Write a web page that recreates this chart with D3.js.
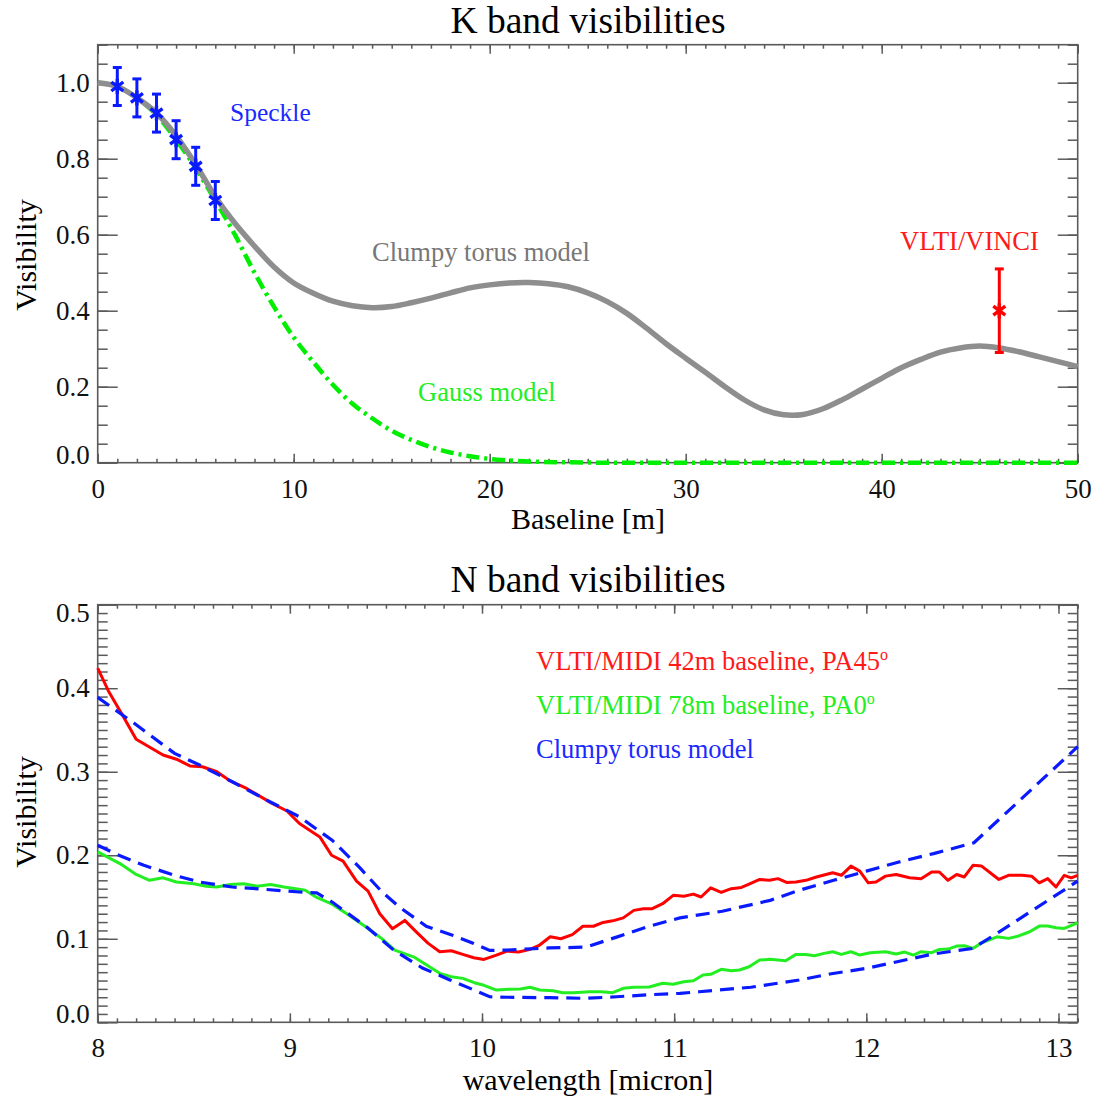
<!DOCTYPE html>
<html>
<head>
<meta charset="utf-8">
<script src="https://cdn.jsdelivr.net/npm/d3@7"></script>
<style>
body { margin: 0; background: #fff; }
svg text { font-family: "Palatino Linotype", "Book Antiqua", Palatino, "Liberation Serif", serif; }
</style>
</head>
<body>
<div id="chart-area"></div>
<script>
// K band panel
var kBaseline = [0,1,2,3,4,5,6,7,8,9,10,11,12,13,14,15,16,17,18,19,20,21,22,23,24,25,26,27,28,29,30,31,32,33,34,35,36,37,38,39,40,41,42,43,44,45,46,47,48,49,50]
var kClumpy = [1.0,0.99,0.96,0.92,0.86,0.785,0.70,0.63,0.57,0.515,0.473,0.446,0.425,0.413,0.408,0.411,0.421,0.433,0.447,0.46,0.468,0.473,0.474,0.471,0.463,0.447,0.424,0.393,0.354,0.313,0.275,0.238,0.2,0.165,0.139,0.126,0.127,0.142,0.166,0.194,0.222,0.25,0.272,0.291,0.302,0.307,0.302,0.292,0.279,0.266,0.253]
var gaussBaseline = [0,1,2,3,4,5,6,7,8,9,10,11,12,13,14,15,16,17,18,19,20,21,22,24,26,30,40,50]
var gaussVis = [1.0,0.99,0.96,0.915,0.85,0.775,0.69,0.60,0.50,0.41,0.33,0.265,0.205,0.155,0.117,0.084,0.06,0.041,0.027,0.017,0.01,0.006,0.003,0.001,0,0,0,0]
var speckleBaseline = [1,2,3,4,5,6]
var speckleVis = [0.99,0.96,0.92,0.85,0.78,0.69]
var speckleErr = [0.05,0.05,0.05,0.05,0.05,0.05]
var vinciBaseline = [46]
var vinciVis = [0.40]
var vinciErr = [0.11]
var kXTicks = [0,10,20,30,40,50]
var kYTicks = [0.0,0.2,0.4,0.6,0.8,1.0]

// N band panel
var wave42 = [8.0,8.055,8.133,8.2,8.34,8.41,8.48,8.545,8.62,8.69,8.775,8.9,8.985,9.05,9.156,9.217,9.277,9.347,9.407,9.468,9.534,9.598,9.659,9.72,9.78,9.84,9.9,9.957,10.01,10.075,10.13,10.19,10.25,10.3,10.355,10.41,10.47,10.525,10.58,10.63,10.68,10.735,10.79,10.84,10.886,10.94,10.995,11.05,11.1,11.14,11.19,11.245,11.297,11.35,11.39,11.445,11.496,11.54,11.585,11.634,11.686,11.74,11.79,11.825,11.87,11.92,11.966,12.01,12.05,12.1,12.155,12.225,12.285,12.34,12.38,12.425,12.47,12.51,12.555,12.6,12.69,12.74,12.81,12.86,12.9,12.944,12.987,13.03,13.066,13.1]
var midi42 = [0.424,0.397,0.366,0.339,0.320,0.315,0.307,0.306,0.300,0.289,0.280,0.263,0.253,0.238,0.222,0.200,0.193,0.169,0.157,0.130,0.112,0.122,0.108,0.0945,0.0845,0.0857,0.0813,0.0773,0.0753,0.0805,0.0853,0.0841,0.0873,0.0925,0.1024,0.100,0.105,0.115,0.115,0.1196,0.1215,0.125,0.134,0.136,0.136,0.142,0.152,0.151,0.1535,0.150,0.161,0.1555,0.160,0.1615,0.1655,0.171,0.170,0.172,0.1675,0.168,0.170,0.174,0.177,0.179,0.176,0.187,0.181,0.167,0.168,0.175,0.177,0.173,0.172,0.180,0.180,0.170,0.177,0.174,0.188,0.187,0.171,0.176,0.176,0.175,0.167,0.172,0.162,0.176,0.173,0.176]
var wave78 = [8.0,8.116,8.2,8.27,8.34,8.41,8.5,8.565,8.62,8.69,8.76,8.83,8.9,8.97,9.03,9.08,9.14,9.22,9.31,9.4,9.477,9.546,9.65,9.78,9.84,9.9,9.96,10.01,10.075,10.14,10.2,10.25,10.3,10.37,10.42,10.475,10.56,10.62,10.68,10.735,10.79,10.87,10.94,10.995,11.05,11.1,11.15,11.19,11.245,11.297,11.34,11.39,11.445,11.5,11.58,11.634,11.686,11.73,11.78,11.825,11.87,11.92,11.966,12.02,12.1,12.155,12.2,12.245,12.285,12.34,12.38,12.425,12.47,12.51,12.555,12.6,12.68,12.74,12.79,12.85,12.9,12.944,12.987,13.03,13.1]
var midi78 = [0.204,0.190,0.177,0.170,0.173,0.168,0.166,0.163,0.162,0.165,0.166,0.163,0.165,0.162,0.160,0.158,0.1495,0.1415,0.128,0.1136,0.1005,0.0865,0.0777,0.0586,0.0545,0.0526,0.0474,0.0443,0.0386,0.0395,0.0398,0.0419,0.0386,0.0378,0.0354,0.0354,0.0366,0.0366,0.0354,0.0407,0.0419,0.0422,0.0467,0.0455,0.0486,0.0498,0.0566,0.0574,0.0634,0.0617,0.0626,0.0665,0.0745,0.0754,0.0737,0.0813,0.0813,0.0797,0.0825,0.0845,0.0813,0.0845,0.0805,0.0833,0.0845,0.0817,0.0841,0.0805,0.0845,0.0833,0.0873,0.0877,0.0913,0.0917,0.0885,0.0952,0.1024,0.1005,0.1032,0.1084,0.1152,0.1152,0.1132,0.1124,0.119]
var modelWave42 = [8.0,8.19,8.4,8.53,8.7,8.88,9.05,9.22,9.36,9.48,9.57,9.71,9.85,9.95,10.04,10.13,10.35,10.54,10.7,10.87,11.03,11.25,11.5,11.65,11.83,12.0,12.17,12.35,12.56,13.1]
var model42 = [0.389,0.358,0.322,0.308,0.288,0.266,0.246,0.218,0.186,0.156,0.138,0.115,0.104,0.095,0.086,0.0865,0.089,0.090,0.102,0.115,0.125,0.133,0.146,0.158,0.170,0.181,0.192,0.202,0.215,0.33]
var modelWave78 = [8.0,8.1,8.24,8.4,8.53,8.7,8.88,9.05,9.14,9.22,9.4,9.54,9.69,9.83,9.955,10.04,10.13,10.35,10.54,10.7,10.87,11.03,11.13,11.4,11.65,11.81,12.0,12.345,12.555,12.69,12.865,13.1]
var model78 = [0.212,0.201,0.188,0.176,0.168,0.162,0.159,0.156,0.155,0.144,0.114,0.0865,0.065,0.051,0.039,0.0306,0.030,0.0295,0.0287,0.0306,0.033,0.0347,0.0366,0.042,0.0506,0.0578,0.0646,0.0817,0.0885,0.108,0.134,0.169]
var nXTicks = [8,9,10,11,12,13]
var nYTicks = [0.0,0.1,0.2,0.3,0.4,0.5]

var width = 1099
var height = 1097
var plotLeft = 97.7
var plotRight = 1077.7
var frameColor = "#5a5a5a"
var noteSize = 26.5

var svg = d3.select("#chart-area")
    .append("svg")
    .attr("width", width)
    .attr("height", height)

var xK = d3.scaleLinear().domain([0, 50]).range([plotLeft, plotRight])
var yK = d3.scaleLinear().domain([0, 1.1]).range([462.7, 44.7])
var xN = d3.scaleLinear().domain([8, 13.1]).range([plotLeft, plotRight])
var yN = d3.scaleLinear().domain([0, 0.5]).range([1022.3, 604.7])

function cleanAxis(g){
    g.select(".domain").remove()
    g.attr("font-family", null).attr("font-size", null)
    g.selectAll("line").attr("stroke", frameColor).attr("stroke-width", 1.5)
    g.selectAll("text").attr("font-size", 27).attr("fill", "#111")
}

function drawFrame(x, y, xMajor, xMinor, yMajor, yMinor, yFormat){
    var x0 = x.range()[0], x1 = x.range()[1]
    var y0 = y.range()[0], y1 = y.range()[1]
    var g = svg.append("g")

    g.append("g").attr("transform", "translate(0," + y0 + ")")
        .call(d3.axisBottom(x).tickValues(xMinor).tickSize(-4).tickFormat("")).call(cleanAxis)
    g.append("g").attr("transform", "translate(0," + y1 + ")")
        .call(d3.axisTop(x).tickValues(xMinor).tickSize(-4).tickFormat("")).call(cleanAxis)
    g.append("g").attr("transform", "translate(" + x0 + ",0)")
        .call(d3.axisLeft(y).tickValues(yMinor).tickSize(-10).tickFormat("")).call(cleanAxis)
    g.append("g").attr("transform", "translate(" + x1 + ",0)")
        .call(d3.axisRight(y).tickValues(yMinor).tickSize(-10).tickFormat("")).call(cleanAxis)

    g.append("g").attr("transform", "translate(0," + y0 + ")")
        .call(d3.axisBottom(x).tickValues(xMajor).tickSize(-9).tickPadding(16).tickFormat(d3.format("d"))).call(cleanAxis)
    g.append("g").attr("transform", "translate(0," + y1 + ")")
        .call(d3.axisTop(x).tickValues(xMajor).tickSize(-9).tickFormat("")).call(cleanAxis)
    var yAxis = g.append("g").attr("transform", "translate(" + x0 + ",0)")
        .call(d3.axisLeft(y).tickValues(yMajor).tickSize(-20).tickPadding(8).tickFormat(yFormat)).call(cleanAxis)
    g.append("g").attr("transform", "translate(" + x1 + ",0)")
        .call(d3.axisRight(y).tickValues(yMajor).tickSize(-20).tickFormat("")).call(cleanAxis)

    g.append("rect")
        .attr("x", x0).attr("y", y1)
        .attr("width", x1 - x0).attr("height", y0 - y1)
        .attr("fill", "none")
        .attr("stroke", frameColor)
        .attr("stroke-width", 1.6)
    return yAxis
}

var kYAxis = drawFrame(xK, yK, kXTicks, d3.range(0, 50.01, 1), kYTicks, d3.range(0, 1.101, 0.05), d3.format(".1f"))
kYAxis.selectAll("text").filter(function(d){ return d === 0 }).attr("dy", "0.02em")

var nYAxis = drawFrame(xN, yN, nXTicks, d3.range(8, 13.101, 0.1), nYTicks, d3.range(0, 0.5001, 0.01), d3.format(".1f"))
nYAxis.selectAll("text").filter(function(d){ return d === 0 }).attr("dy", "0.0em")
nYAxis.selectAll("text").filter(function(d){ return d === 0.5 }).attr("dy", "0.64em")

// titles
svg.append("text").attr("x", 588).attr("y", 33).attr("text-anchor", "middle")
    .attr("font-size", 37.5).text("K band visibilities")
svg.append("text").attr("x", 588).attr("y", 592).attr("text-anchor", "middle")
    .attr("font-size", 37.5).text("N band visibilities")
svg.append("text").attr("x", 588).attr("y", 529).attr("text-anchor", "middle")
    .attr("font-size", 30).text("Baseline [m]")
svg.append("text").attr("x", 588).attr("y", 1090).attr("text-anchor", "middle")
    .attr("font-size", 30).text("wavelength [micron]")
svg.append("text").attr("transform", "translate(36,255) rotate(-90)").attr("text-anchor", "middle")
    .attr("font-size", 30).text("Visibility")
svg.append("text").attr("transform", "translate(36,812) rotate(-90)").attr("text-anchor", "middle")
    .attr("font-size", 30).text("Visibility")

// K band curves
var gaussLine = d3.line()
    .x(function(d, i){ return xK(gaussBaseline[i]) })
    .y(function(d){ return yK(d) })
    .curve(d3.curveMonotoneX)

svg.append("path")
    .attr("d", gaussLine(gaussVis))
    .attr("fill", "none")
    .attr("stroke", "#00ee00")
    .attr("stroke-width", 4.5)
    .attr("stroke-dasharray", "13,5,3,5")

var clumpyLine = d3.line()
    .x(function(d, i){ return xK(kBaseline[i]) })
    .y(function(d){ return yK(d) })
    .curve(d3.curveCatmullRom.alpha(0.5))

svg.append("path")
    .attr("d", clumpyLine(kClumpy))
    .attr("fill", "none")
    .attr("stroke", "#8e8e8e")
    .attr("stroke-width", 5.5)

function drawPoints(xs, vs, es, color){
    var g = svg.append("g").attr("stroke", color).attr("stroke-width", 3).attr("fill", "none")
    vs.forEach(function(v, i){
        var cx = xK(xs[i]), cy = yK(v)
        var top = yK(v + es[i]), bot = yK(v - es[i])
        g.append("line").attr("x1", cx).attr("x2", cx).attr("y1", top).attr("y2", bot)
        g.append("line").attr("x1", cx - 4.5).attr("x2", cx + 4.5).attr("y1", top).attr("y2", top)
        g.append("line").attr("x1", cx - 4.5).attr("x2", cx + 4.5).attr("y1", bot).attr("y2", bot)
        var r = 7.5
        var p = d3.path()
        p.moveTo(cx, cy - r); p.lineTo(cx, cy + r)
        p.moveTo(cx - r * 0.8, cy - r * 0.6); p.lineTo(cx + r * 0.8, cy + r * 0.6)
        p.moveTo(cx - r * 0.8, cy + r * 0.6); p.lineTo(cx + r * 0.8, cy - r * 0.6)
        g.append("path").attr("d", p.toString()).attr("stroke-width", 3.4)
    })
}
drawPoints(speckleBaseline, speckleVis, speckleErr, "#0a1aff")
drawPoints(vinciBaseline, vinciVis, vinciErr, "#ff0000")

svg.append("text").attr("x", 230).attr("y", 121).attr("font-size", 25.5).attr("fill", "#1a2aff").text("Speckle")
svg.append("text").attr("x", 372).attr("y", 261).attr("font-size", noteSize).attr("fill", "#777").text("Clumpy torus model")
svg.append("text").attr("x", 418).attr("y", 401).attr("font-size", noteSize).attr("fill", "#22ee22").text("Gauss model")
svg.append("text").attr("x", 900).attr("y", 250).attr("font-size", noteSize).attr("fill", "#ff1a1a").text("VLTI/VINCI")

// N band curves
function waveLine(waves){
    return d3.line()
        .x(function(d, i){ return xN(waves[i]) })
        .y(function(d){ return yN(d) })
}

svg.append("path")
    .attr("d", waveLine(wave42)(midi42))
    .attr("fill", "none")
    .attr("stroke", "#ff0000")
    .attr("stroke-width", 3)
    .attr("stroke-linejoin", "round")

svg.append("path")
    .attr("d", waveLine(wave78)(midi78))
    .attr("fill", "none")
    .attr("stroke", "#22ee22")
    .attr("stroke-width", 3)
    .attr("stroke-linejoin", "round")

svg.append("path")
    .attr("d", waveLine(modelWave42)(model42))
    .attr("fill", "none")
    .attr("stroke", "#0a1aff")
    .attr("stroke-width", 3.2)
    .attr("stroke-dasharray", "14,8")

svg.append("path")
    .attr("d", waveLine(modelWave78)(model78))
    .attr("fill", "none")
    .attr("stroke", "#0a1aff")
    .attr("stroke-width", 3.2)
    .attr("stroke-dasharray", "14,8")

var legend = [
    {text: "VLTI/MIDI 42m baseline, PA45", sup: "o", color: "#ff1a1a", y: 670},
    {text: "VLTI/MIDI 78m baseline, PA0", sup: "o", color: "#22ee22", y: 714},
    {text: "Clumpy torus model", sup: "", color: "#1a2aff", y: 758}
]
legend.forEach(function(item){
    var t = svg.append("text").attr("x", 536).attr("y", item.y).attr("font-size", noteSize).attr("fill", item.color)
    t.append("tspan").text(item.text)
    if (item.sup) t.append("tspan").attr("dy", -10).attr("font-size", 16).text(item.sup)
})
</script>
</body>
</html>
